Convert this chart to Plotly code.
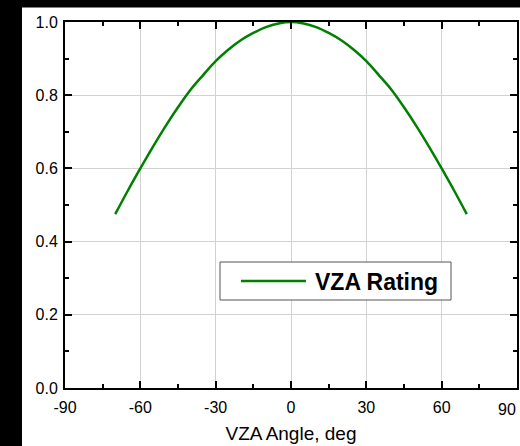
import plotly.graph_objects as go

# Data
angles = [-70, -65, -60, -55, -50, -45, -40, -35, -30, -25, -20, -15, -10, -5,
          0, 5, 10, 15, 20, 25, 30, 35, 40, 45, 50, 55, 60, 65, 70]
half = [0.475, 0.539, 0.600, 0.659, 0.715, 0.767, 0.815, 0.855, 0.893, 0.924,
        0.950, 0.970, 0.986, 0.996]
rating = half + [1.0] + half[::-1]
series_name = "VZA Rating"
x_title = "VZA Angle, deg"
x_ticks = [-90, -60, -30, 0, 30, 60, 90]
y_ticks = [0.0, 0.2, 0.4, 0.6, 0.8, 1.0]

W, H = 520, 446
ML, MR, MT, MB = 65, 3, 22, 58
PW = W - ML - MR
PH = H - MT - MB


def px(x):
    return (x - ML) / PW


def py(y):
    return (H - MB - y) / PH


fig = go.Figure()
fig.add_trace(go.Scatter(
    x=angles, y=rating, mode="lines", name=series_name,
    line=dict(color="#008000", width=2.5, shape="spline", smoothing=1.0),
    showlegend=False,
))

font = "Liberation Sans, Arial, sans-serif"
tick_font = dict(family=font, size=16, color="black")
axis_common = dict(
    showline=True, linecolor="black", linewidth=2, mirror="ticks",
    ticks="inside", ticklen=7, tickwidth=2, tickcolor="black",
    showgrid=True, gridcolor="#d2d2d2", gridwidth=1, zeroline=False,
    tickfont=tick_font, automargin=False,
)
fig.update_xaxes(
    range=[-90, 90], tickvals=x_ticks, ticktext=[str(v) for v in x_ticks],
    minor=dict(ticks="inside", ticklen=4, tickwidth=2, tickcolor="black",
               dtick=15, tick0=-90, showgrid=False),
    ticklabelstandoff=4,
    title=dict(text=x_title, font=dict(family=font, size=19, color="black"),
               standoff=11),
    **axis_common,
)
fig.update_yaxes(
    range=[0, 1.0], tickvals=y_ticks, ticktext=[f"{v:.1f}" for v in y_ticks],
    minor=dict(ticks="inside", ticklen=4, tickwidth=2, tickcolor="black",
               dtick=0.1, tick0=0, showgrid=False),
    ticklabelstandoff=2,
    **axis_common,
)

# last x tick label sits at the page edge in the reference; keep it visible
fig.add_annotation(xref="paper", yref="paper", x=px(W - 2), y=py(H - MB + 11),
                   xanchor="right", yanchor="top", showarrow=False,
                   text=str(x_ticks[-1]), font=tick_font)

# black border strips (reference is a crop with a black backdrop left/top)
fig.add_shape(type="rect", xref="paper", yref="paper", layer="above",
              x0=px(0), x1=px(22), y0=py(H), y1=py(0),
              fillcolor="black", line=dict(width=0))
fig.add_shape(type="rect", xref="paper", yref="paper", layer="above",
              x0=px(0), x1=px(W), y0=py(7.5), y1=py(0),
              fillcolor="black", line=dict(width=0))

# legend box
fig.add_shape(type="rect", xref="paper", yref="paper",
              x0=px(220), x1=px(451), y0=py(262), y1=py(300),
              fillcolor="white", line=dict(color="#555555", width=1))
fig.add_shape(type="line", xref="paper", yref="paper",
              x0=px(241), x1=px(306), y0=py(281), y1=py(281),
              line=dict(color="#008000", width=2.5))
fig.add_annotation(xref="paper", yref="paper", x=px(313), y=py(281.5),
                   xanchor="left", yanchor="middle", showarrow=False,
                   text=f"<b>{series_name}</b>",
                   font=dict(family=font, size=23, color="black"))

fig.update_layout(
    width=W, height=H,
    margin=dict(l=ML, r=MR, t=MT, b=MB, pad=0),
    paper_bgcolor="white", plot_bgcolor="white",
    showlegend=False,
)

fig.write_html("out.html")
